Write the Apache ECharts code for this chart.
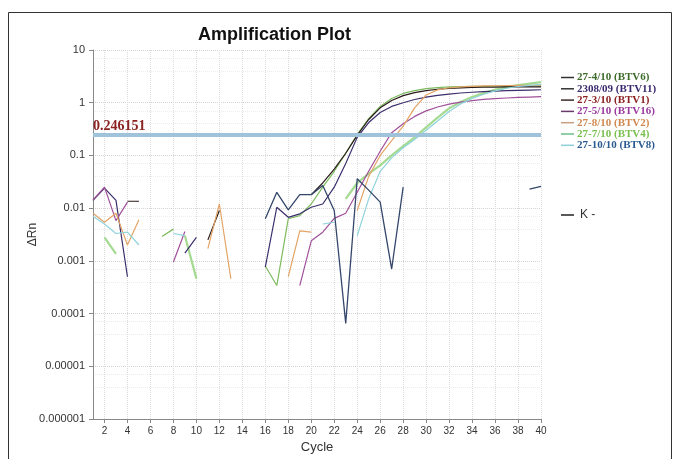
<!DOCTYPE html>
<html><head><meta charset="utf-8">
<script src="https://cdn.jsdelivr.net/npm/echarts@6/dist/echarts.min.js"></script>
<style>html,body{margin:0;padding:0;background:#fff}#c{width:680px;height:459px}</style>
</head><body><div id="c"></div>
<script>
const cycles = [1,2,3,4,5,6,7,8,9,10,11,12,13,14,15,16,17,18,19,20,21,22,23,24,25,26,27,28,29,30,31,32,33,34,35,36,37,38,39,40];
const yTickLabels = ['0.000001','0.00001','0.0001','0.001','0.01','0.1','1','10'];
const threshold = 0.246151;
const names = ['27-4/10 (BTV6)','2308/09 (BTV11)','27-3/10 (BTV1)','27-5/10 (BTV16)','27-8/10 (BTV2)','27-7/10 (BTV4)','27-10/10 (BTV8)','K -'];

const btv6 = [null,null,null,null,null,null,0.0029,0.004,null,null,
  null,null,null,null,null,0.0008,0.00034,0.0063,0.0072,0.012,
  0.025,0.05,0.11,0.25,0.5,0.85,1.2,1.5,1.7,1.85,
  1.94,1.99,2.02,2.04,2.05,2.06,2.07,2.08,2.08,2.09];
const btv11 = [0.014,0.024,0.014,0.0005,null,null,null,null,0.0014,0.0028,
  null,null,null,null,null,0.00076,0.0104,0.0067,0.0078,0.0104,
  0.012,0.025,0.07,0.22,0.42,0.65,0.85,1.0,1.15,1.28,
  1.38,1.46,1.53,1.58,1.62,1.66,1.69,1.72,1.74,1.76];
const btv1 = [null,null,null,0.0135,0.0135,null,null,null,null,null,
  0.0025,0.009,null,null,null,null,null,null,null,0.018,
  0.03,0.055,0.11,0.24,0.48,0.8,1.1,1.36,1.55,1.7,
  1.8,1.87,1.92,1.95,1.97,1.98,1.99,2.0,2.0,2.0];
const btv16 = [0.0144,0.025,0.0058,0.013,null,null,null,0.00095,0.0036,null,
  null,null,null,null,null,null,null,null,0.00034,0.0024,
  0.0035,0.0064,0.008,0.02,0.05,0.12,0.27,0.4,0.55,0.7,
  0.83,0.94,1.03,1.1,1.16,1.2,1.23,1.26,1.28,1.3];
const btv2 = [0.008,0.0054,0.008,0.002,0.006,null,null,null,null,null,
  0.0017,0.012,0.00046,null,null,null,null,0.0005,0.0037,0.0035,
  null,null,null,0.009,0.04,0.1,0.19,0.36,0.8,1.4,
  1.75,1.92,2.0,2.05,2.08,2.1,2.12,2.13,2.14,2.15];
const btv4 = [null,0.0028,0.00135,null,null,null,null,null,0.003,0.00046,
  null,null,null,null,null,null,null,null,null,null,
  null,null,0.015,0.03,0.045,0.065,0.1,0.15,0.22,0.34,
  0.52,0.78,1.03,1.28,1.52,1.75,1.95,2.15,2.3,2.45];
const btv8 = [0.007,0.005,0.0033,0.0035,0.002,null,null,0.0033,0.003,null,
  null,null,null,null,null,null,null,null,null,null,
  0.005,0.0054,null,0.003,0.015,0.05,0.09,0.14,0.2,0.3,
  0.45,0.68,0.95,1.2,1.45,1.68,1.88,2.03,2.13,2.22];
const kneg = [null,null,null,null,null,null,null,null,null,null,
  null,null,null,null,null,0.0063,0.02,0.0093,0.018,0.018,
  0.027,0.009,0.000065,0.036,0.022,0.013,0.0007,0.025,null,null,
  null,null,null,null,null,null,null,null,0.023,0.026];

const seriesData = [btv6,btv11,btv1,btv16,btv2,btv4,btv8,kneg];
const lineColors = ['#7dbb5e','#3b2f6b','#2a1a1a','#a0509a','#e3a466','#9ad685','#8fd3dc','#34466a'];
const lineWidths = [1.2,1.2,1.2,1.2,1.2,2.2,1.2,1.3];
const iconColors = ['#333','#333','#3a2a2a','#6a3a6a','#c8a080','#6bbf8a','#8fd0d8','#222'];
const textColors = ['#3d6b2a','#3a2a70','#8a2020','#9a3aa0','#d08850','#7ac050','#2a5a90'];

const chart = echarts.init(document.getElementById('c'));
const series = seriesData.map((d,i)=>({
  name: names[i], type:'line', data:d, showSymbol:false, symbol:'none',
  connectNulls:false, animation:false, z: i===5?2:3,
  lineStyle:{color:lineColors[i], width:lineWidths[i], opacity: i===5?0.9:1},
  itemStyle:{color:lineColors[i]}
}));
series[7].markLine = {
  silent:true, symbol:['none','none'], animation:false,
  lineStyle:{color:'#9ec3da', width:4, type:'solid', opacity:1},
  label:{show:true, position:'insideStartTop', formatter:'0.246151', distance:[0,1],
    fontFamily:'Liberation Serif', fontWeight:'bold', fontSize:14, color:'#8b2323'},
  data:[{yAxis:threshold}]
};

chart.setOption({
  backgroundColor:'#fff',
  animation:false,
  title:{text:'Amplification Plot', left:193, top:21,
    textStyle:{fontFamily:'Liberation Sans', fontWeight:'bold', fontSize:18, color:'#111'}},
  graphic:[{type:'rect', shape:{x:8.5,y:12.5,width:663,height:460},
    style:{fill:'none', stroke:'#333', lineWidth:1}, silent:true}],
  legend:[{
    orient:'vertical', left:556, top:67, itemGap:0.3, itemWidth:13, itemHeight:1.5, icon:'rect',
    textStyle:{fontFamily:'Liberation Serif', fontWeight:'bold', fontSize:11, lineHeight:11, padding:[0,0,0,-2]},
    data: names.slice(0,7).map((n,i)=>({name:n, itemStyle:{color:iconColors[i], borderWidth:0},
      textStyle:{color:textColors[i]}}))
  },{
    orient:'vertical', left:556, top:204, itemWidth:13, itemHeight:1.5, icon:'rect',
    textStyle:{fontFamily:'Liberation Sans', fontSize:12, color:'#333', padding:[0,0,0,1]},
    data:[{name:names[7], itemStyle:{color:'#222', borderWidth:0}}]
  }],
  grid:{left:93, right:139, top:50, bottom:40, containLabel:false},
  xAxis:{
    type:'category', data:cycles, boundaryGap:false,
    name:'Cycle', nameLocation:'middle', nameGap:22, nameMoveOverlap:false,
    nameTextStyle:{fontFamily:'Liberation Sans', fontSize:13, color:'#333'},
    axisLine:{lineStyle:{color:'#888'}},
    axisTick:{interval:(i)=>i%2===1, length:4, lineStyle:{color:'#888'}},
    axisLabel:{interval:(i)=>i%2===1, fontFamily:'Liberation Sans', fontSize:10, color:'#333', margin:7},
    splitLine:{show:true, interval:(i)=>i%2===1, lineStyle:{color:'#dcdcdc', type:'dotted'}}
  },
  yAxis:{
    type:'log', logBase:10, min:0.000001, max:10, splitNumber:8,
    name:'ΔRn', nameLocation:'middle', nameGap:54, nameRotate:90, nameMoveOverlap:false,
    nameTextStyle:{fontFamily:'Liberation Sans', fontSize:12, color:'#333'},
    axisLine:{show:true, lineStyle:{color:'#888'}},
    axisTick:{show:true, length:4, lineStyle:{color:'#888'}},
    axisLabel:{fontFamily:'Liberation Sans', fontSize:11, color:'#333', margin:8,
      formatter:(v)=>{const k=Math.round(Math.log10(v))+6; return yTickLabels[k]!==undefined?yTickLabels[k]:'';}},
    splitLine:{show:true, lineStyle:{color:'#d4d4d4', type:'dotted'}},
    minorTick:{show:false, splitNumber:3},
    minorSplitLine:{show:true, lineStyle:{color:'#ececec', type:'dotted'}}
  },
  series: series
});
</script>
</body></html>
